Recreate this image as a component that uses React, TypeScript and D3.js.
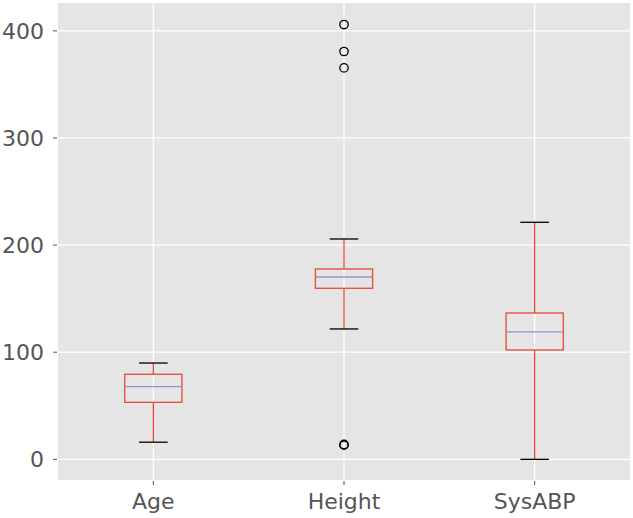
import React from "react";
import * as d3 from "d3";

const categories = ["Age", "Height", "SysABP"];
const whiskerLow = [16, 121.7, 0];
const q1 = [53.2, 159.7, 102.1];
const medians = [67.8, 170.2, 118.9];
const q3 = [79.4, 177.7, 136.6];
const whiskerHigh = [89.9, 205.7, 221.3];
const outliers: number[][] = [[], [405.9, 380.7, 365.4, 13.2, 13.9], []];
const yTicks = [0, 100, 200, 300, 400];

const W = 633, H = 518;
const left = 58, right = 630, top = 3, bottom = 480;

export default function App() {
  const x = d3.scaleLinear().domain([0.5, 3.5]).range([left, right]);
  const y = d3.scaleLinear().domain([-19.3, 426]).range([bottom, top]);
  const boxW = 0.3, capW = 0.15;
  const red = "#E24A33", med = "#988ED5";
  const font = "DejaVu Sans, sans-serif";
  return (
    <svg width={W} height={H} style={{ position: "absolute", left: 0, top: 0 }}>
      <rect x={left} y={top} width={right - left} height={bottom - top} fill="#E5E5E5" />
      {yTicks.map((t) => (
        <g key={t}>
          <line x1={left} x2={right} y1={y(t)} y2={y(t)} stroke="#fff" strokeWidth={1.2} />
          <line x1={left - 5} x2={left - 1} y1={y(t)} y2={y(t)} stroke="#555" strokeWidth={1} />
          <text x={left - 14} y={y(t)} dy="0.35em" textAnchor="end" fontSize={22} fill="#555" fontFamily={font}>{t}</text>
        </g>
      ))}
      {categories.map((c, i) => {
        const p = i + 1;
        return (
          <g key={c}>
            <line x1={x(p)} x2={x(p)} y1={top} y2={bottom} stroke="#fff" strokeWidth={1.2} />
            <line x1={x(p)} x2={x(p)} y1={bottom + 1} y2={bottom + 5} stroke="#555" strokeWidth={1} />
            <text x={x(p)} y={bottom + 29} textAnchor="middle" fontSize={22} fill="#555" fontFamily={font}>{c}</text>
          </g>
        );
      })}
      {categories.map((c, i) => {
        const p = i + 1;
        return (
          <g key={"b" + c}>
            <line x1={x(p)} x2={x(p)} y1={y(whiskerLow[i])} y2={y(q1[i])} stroke={red} strokeWidth={1.3} />
            <line x1={x(p)} x2={x(p)} y1={y(q3[i])} y2={y(whiskerHigh[i])} stroke={red} strokeWidth={1.3} />
            <line x1={x(p - capW / 2)} x2={x(p + capW / 2)} y1={y(whiskerLow[i])} y2={y(whiskerLow[i])} stroke="#000" strokeWidth={1.3} />
            <line x1={x(p - capW / 2)} x2={x(p + capW / 2)} y1={y(whiskerHigh[i])} y2={y(whiskerHigh[i])} stroke="#000" strokeWidth={1.3} />
            <rect x={x(p - boxW / 2)} y={y(q3[i])} width={x(p + boxW / 2) - x(p - boxW / 2)} height={y(q1[i]) - y(q3[i])} fill="none" stroke={red} strokeWidth={1.3} />
            <line x1={x(p - boxW / 2)} x2={x(p + boxW / 2)} y1={y(medians[i])} y2={y(medians[i])} stroke={med} strokeWidth={1.3} />
            {outliers[i].map((v, k) => (
              <circle key={k} cx={x(p)} cy={y(v)} r={4.2} fill="none" stroke="#000" strokeWidth={1.3} />
            ))}
          </g>
        );
      })}
    </svg>
  );
}
